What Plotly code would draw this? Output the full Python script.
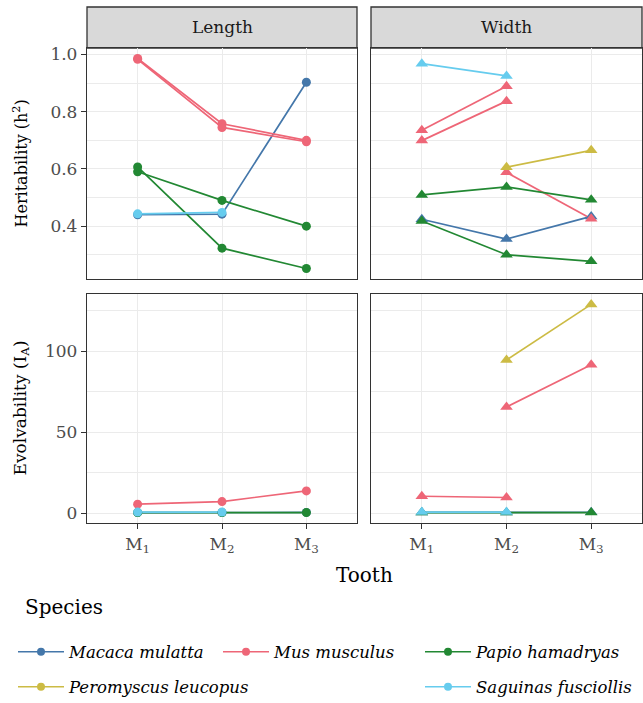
import plotly.graph_objects as go
import numpy as np

# ---------------- data ----------------
teeth = ["M1", "M2", "M3"]
tooth_labels = ["M<sub>1</sub>", "M<sub>2</sub>", "M<sub>3</sub>"]
species = ["Macaca mulatta", "Mus musculus", "Papio hamadryas",
           "Peromyscus leucopus", "Saguinas fusciollis"]
species_colors = ["#4477AA", "#EE6677", "#228833", "#CCBB44", "#66CCEE"]

# Heritability (h2) - Length (circles)
h2_length_macaca = [0.440, 0.442, 0.903]
h2_length_mus_a = [0.986, 0.758, 0.700]
h2_length_mus_b = [0.983, 0.745, 0.695]
h2_length_papio_a = [0.590, 0.490, 0.400]
h2_length_papio_b = [0.607, 0.323, 0.252]
h2_length_saguinas = [0.443, 0.448, None]

# Heritability (h2) - Width (triangles)
h2_width_macaca = [0.424, 0.355, 0.434]
h2_width_mus_a = [0.735, 0.889, None]
h2_width_mus_b = [0.699, 0.837, None]
h2_width_mus_c = [None, 0.588, 0.426]
h2_width_papio_a = [0.509, 0.537, 0.492]
h2_width_papio_b = [0.418, 0.300, 0.277]
h2_width_peromyscus = [None, 0.606, 0.665]
h2_width_saguinas = [0.968, 0.925, None]

# Evolvability (IA) - Length
ia_length_macaca = [0.3, 0.3, 0.4]
ia_length_mus = [5.5, 7.1, 13.7]
ia_length_papio = [0.3, 0.3, 0.3]
ia_length_saguinas = [0.6, 0.6, None]

# Evolvability (IA) - Width
ia_width_macaca = [0.4, 0.3, 0.5]
ia_width_mus_a = [10.4, 9.6, None]
ia_width_mus_c = [None, 65.5, 91.5]
ia_width_papio = [0.3, 0.3, 0.3]
ia_width_peromyscus = [None, 94.5, 128.8]
ia_width_saguinas = [0.6, 0.6, None]

panels = {
    # (xaxis, yaxis, marker symbol) : list of (species, values)
    ("x", "y", "circle"): [
        ("Macaca mulatta", h2_length_macaca),
        ("Mus musculus", h2_length_mus_a),
        ("Mus musculus", h2_length_mus_b),
        ("Papio hamadryas", h2_length_papio_a),
        ("Papio hamadryas", h2_length_papio_b),
        ("Saguinas fusciollis", h2_length_saguinas),
    ],
    ("x2", "y2", "triangle-up"): [
        ("Macaca mulatta", h2_width_macaca),
        ("Mus musculus", h2_width_mus_a),
        ("Mus musculus", h2_width_mus_b),
        ("Mus musculus", h2_width_mus_c),
        ("Papio hamadryas", h2_width_papio_a),
        ("Papio hamadryas", h2_width_papio_b),
        ("Peromyscus leucopus", h2_width_peromyscus),
        ("Saguinas fusciollis", h2_width_saguinas),
    ],
    ("x3", "y3", "circle"): [
        ("Macaca mulatta", ia_length_macaca),
        ("Mus musculus", ia_length_mus),
        ("Papio hamadryas", ia_length_papio),
        ("Saguinas fusciollis", ia_length_saguinas),
    ],
    ("x4", "y4", "triangle-up"): [
        ("Macaca mulatta", ia_width_macaca),
        ("Mus musculus", ia_width_mus_a),
        ("Mus musculus", ia_width_mus_c),
        ("Papio hamadryas", ia_width_papio),
        ("Peromyscus leucopus", ia_width_peromyscus),
        ("Saguinas fusciollis", ia_width_saguinas),
    ],
}

color_of = dict(zip(species, species_colors))
FONT = "DejaVu Serif"
W, H = 643, 703

fig = go.Figure()

# lines first (all panels), then points, as in ggplot layering
for (xa, ya, sym), series in panels.items():
    for sp, vals in series:
        fig.add_trace(go.Scatter(x=teeth, y=vals, mode="lines", xaxis=xa, yaxis=ya,
                                 line=dict(color=color_of[sp], width=1.7),
                                 showlegend=False, hoverinfo="skip"))
for (xa, ya, sym), series in panels.items():
    size = 9 if sym == "circle" else 11
    for sp, vals in series:
        fig.add_trace(go.Scatter(x=teeth, y=vals, mode="markers", xaxis=xa, yaxis=ya,
                                 marker=dict(color=color_of[sp], size=size, symbol=sym,
                                             line=dict(width=0)),
                                 showlegend=False, name=sp))

# legend entries: 3 columns x 2 rows (row 2, column 2 empty)
legend_of = {
    "Macaca mulatta": "legend",       # row 1, cols 1-2
    "Mus musculus": "legend",
    "Papio hamadryas": "legend3",     # row 1, col 3
    "Peromyscus leucopus": "legend2", # row 2, col 1
    "Saguinas fusciollis": "legend4", # row 2, col 3
}
for sp in species:
    fig.add_trace(go.Scatter(x=[None], y=[None], mode="lines+markers", name=sp,
                             legend=legend_of[sp], xaxis="x", yaxis="y",
                             line=dict(color=color_of[sp], width=1.7),
                             marker=dict(color=color_of[sp], size=8)))


def yrange(arrays):
    v = np.array([a for arr in arrays for a in arr if a is not None], dtype=float)
    lo, hi = v.min(), v.max()
    pad = (hi - lo) * 0.05
    return [lo - pad, hi + pad]


h2_all = [v for k in [("x", "y", "circle"), ("x2", "y2", "triangle-up")] for _, v in panels[k]]
ia_all = [v for k in [("x3", "y3", "circle"), ("x4", "y4", "triangle-up")] for _, v in panels[k]]
r_top = yrange(h2_all)
r_bot = yrange(ia_all)

# panel geometry (pixels)
left_x = (87, 357)
right_x = (371, 642)
top_y = (48, 279)
bot_y = (294, 523)
strip_y = (7, 48)


def xd(p):
    return [p[0] / W, p[1] / W]


def yd(p):
    return [1 - p[1] / H, 1 - p[0] / H]


grid = "#EBEBEB"
border = "#333333"
tickfont = dict(family=FONT, size=17, color="#4D4D4D")

common_x = dict(range=[-0.6, 2.6], categoryorder="array", categoryarray=teeth,
                showgrid=True, gridcolor=grid, gridwidth=1.3, zeroline=False,
                showline=True, mirror=True, linecolor=border, linewidth=1.3,
                tickvals=teeth, ticktext=tooth_labels, tickfont=tickfont)
common_y = dict(showgrid=True, gridcolor=grid, gridwidth=1.3, zeroline=False,
                showline=True, mirror=True, linecolor=border, linewidth=1.3,
                tickfont=tickfont)

layout_axes = {}
for name, dom, anchor, bottom in [("xaxis", left_x, "y", False), ("xaxis2", right_x, "y2", False),
                                  ("xaxis3", left_x, "y3", True), ("xaxis4", right_x, "y4", True)]:
    d = dict(common_x, domain=xd(dom), anchor=anchor)
    if bottom:
        d.update(ticks="outside", ticklen=5, tickcolor=border, tickwidth=1.2, showticklabels=True)
    else:
        d.update(ticks="", showticklabels=False)
    layout_axes[name] = d

for name, dom, anchor, rng, dt, left in [
        ("yaxis", top_y, "x", r_top, 0.2, True), ("yaxis2", top_y, "x2", r_top, 0.2, False),
        ("yaxis3", bot_y, "x3", r_bot, 50, True), ("yaxis4", bot_y, "x4", r_bot, 50, False)]:
    d = dict(common_y, domain=yd(dom), anchor=anchor, range=rng, dtick=dt, tick0=0,
             minor=dict(dtick=dt / 2, tick0=0, showgrid=True, gridcolor=grid, gridwidth=0.6))
    if dt == 0.2:
        d["tickformat"] = ".1f"
    if left:
        d.update(ticks="outside", ticklen=5, tickcolor=border, tickwidth=1.2, showticklabels=True)
    else:
        d.update(ticks="", showticklabels=False)
    layout_axes[name] = d

shapes = []
annotations = []
for dom, label in [(left_x, "Length"), (right_x, "Width")]:
    shapes.append(dict(type="rect", xref="paper", yref="paper",
                       x0=dom[0] / W, x1=dom[1] / W,
                       y0=1 - strip_y[1] / H, y1=1 - strip_y[0] / H,
                       fillcolor="#D9D9D9", line=dict(color=border, width=1.3), layer="below"))
    annotations.append(dict(text=label, xref="paper", yref="paper",
                            x=(dom[0] + dom[1]) / 2 / W, y=1 - (strip_y[0] + strip_y[1]) / 2 / H,
                            showarrow=False, xanchor="center", yanchor="middle",
                            font=dict(family=FONT, size=17, color="#1A1A1A")))

annotations += [
    dict(text="Heritability (h<sup>2</sup>)", xref="paper", yref="paper",
         x=21 / W, y=1 - (top_y[0] + top_y[1]) / 2 / H, textangle=-90, showarrow=False,
         xanchor="center", yanchor="middle", font=dict(family=FONT, size=16, color="black")),
    dict(text="Evolvability (I<sub>A</sub>)", xref="paper", yref="paper",
         x=21 / W, y=1 - (bot_y[0] + bot_y[1]) / 2 / H, textangle=-90, showarrow=False,
         xanchor="center", yanchor="middle", font=dict(family=FONT, size=17, color="black")),
    dict(text="Tooth", xref="paper", yref="paper", x=(left_x[0] + right_x[1]) / 2 / W,
         y=1 - 575 / H, showarrow=False, xanchor="center", yanchor="middle",
         font=dict(family=FONT, size=20, color="black")),
    dict(text="Species", xref="paper", yref="paper", x=23 / W, y=1 - 607 / H,
         showarrow=False, xanchor="left", yanchor="middle",
         font=dict(family=FONT, size=20, color="black")),
]

legend_common = dict(orientation="h", xanchor="left", yanchor="middle", entrywidth=144,
                     itemwidth=46,
                     bgcolor="rgba(0,0,0,0)", borderwidth=0,
                     font=dict(family=FONT, size=16.5, color="black", style="italic"))
single_legend = {k: v for k, v in legend_common.items() if k != "entrywidth"}

row1_y = 1 - 652 / H
row2_y = 1 - 687 / H
col1_x = 13 / W
col3_x = 420 / W

fig.update_layout(
    width=W, height=H, margin=dict(l=0, r=0, t=0, b=0, autoexpand=False),
    paper_bgcolor="white", plot_bgcolor="white",
    shapes=shapes, annotations=annotations,
    legend=dict(legend_common, x=col1_x, y=row1_y),
    legend2=dict(single_legend, x=col1_x, y=row2_y),
    legend3=dict(single_legend, x=col3_x, y=row1_y),
    legend4=dict(single_legend, x=col3_x, y=row2_y),
    **layout_axes,
)

fig.write_html(
    "out.html",
    config={"responsive": False, "displayModeBar": False},
    post_script=("document.body.style.margin='0';"
                 "document.body.style.overflow='hidden';"
                 "Plotly.relayout('{plot_id}', {width: 643, height: 703});"),
)
